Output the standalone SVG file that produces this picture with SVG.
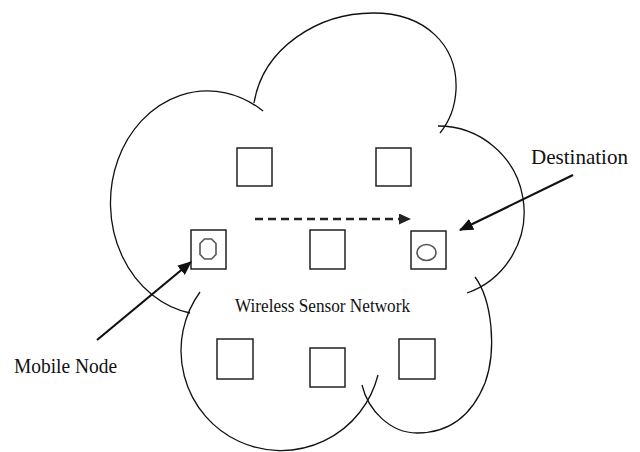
<svg xmlns="http://www.w3.org/2000/svg" width="640" height="452" viewBox="0 0 640 452">
<style>
.cloud{fill:none;stroke:#111;stroke-width:1.3}
.sq{fill:#fff;stroke:#222;stroke-width:1.5}
.mark{fill:none;stroke:#555;stroke-width:1.6}
.lbl{font-family:"Liberation Serif","Times New Roman",serif;fill:#111}
.conn{stroke:#111;stroke-width:2.2;fill:none}
</style>
<defs>
<marker id="ah" markerWidth="14" markerHeight="12" refX="13" refY="6" orient="auto" markerUnits="userSpaceOnUse">
<path d="M0,0 L14,6 L0,12 Z" fill="#111"/>
</marker>
<marker id="ahd" markerWidth="12" markerHeight="11" refX="12" refY="5.5" orient="auto" markerUnits="userSpaceOnUse">
<path d="M0,0 L12,5.5 L0,11 Z" fill="#222"/>
</marker>
</defs>
<rect width="640" height="452" fill="#fff"/>
<g id="cloud">
<path class="cloud" d="M263,111 A97,112 0 1 0 190,313"/>
<path class="cloud" d="M254,103 C263,48 318,13 373,13 C425,13 458,45 456,90 C455,108 449,122 440,133"/>
<path class="cloud" d="M438,126 A86,86 0 0 1 467,293"/>
<path class="cloud" d="M475,277 C492,300 497,350 485,383 C470,420 445,433 417,433 C390,433 368,410 362,385"/>
<path class="cloud" d="M200,292 A100,100 0 1 0 378,375"/>
<text class="lbl" x="235" y="312" font-size="18.5" textLength="175" lengthAdjust="spacingAndGlyphs">Wireless Sensor Network</text>
</g>
<g id="node-top-left"><rect class="sq" x="237" y="148" width="35" height="38"/></g>
<g id="node-top-right"><rect class="sq" x="376" y="148" width="35" height="38"/></g>
<g id="node-mobile"><rect class="sq" x="191" y="230" width="35" height="39"/><path class="mark" d="M204.5,239 L211.5,239 L216,243.5 L216,254.5 L211.5,259 L204.5,259 L200,254.5 L200,243.5 Z"/></g>
<g id="node-mid-center"><rect class="sq" x="310" y="230" width="35" height="39"/></g>
<g id="node-destination"><rect class="sq" x="411" y="231" width="35" height="38"/><ellipse class="mark" cx="426.5" cy="252.5" rx="9.5" ry="8"/></g>
<g id="node-bot-left"><rect class="sq" x="217" y="339" width="36" height="40"/></g>
<g id="node-bot-mid"><rect class="sq" x="310" y="348" width="35" height="39"/></g>
<g id="node-bot-right"><rect class="sq" x="399" y="339" width="36" height="40"/></g>
<g id="label-destination"><text class="lbl" x="531" y="164" font-size="21" textLength="97" lengthAdjust="spacingAndGlyphs">Destination</text></g>
<g id="label-mobile"><text class="lbl" x="14" y="373" font-size="21" textLength="103" lengthAdjust="spacingAndGlyphs">Mobile Node</text></g>
<g id="connectors">
<line x1="255" y1="219" x2="411" y2="219" stroke="#222" stroke-width="2.6" stroke-dasharray="8,5" marker-end="url(#ahd)"/>
<line class="conn" x1="573" y1="175" x2="460" y2="230" marker-end="url(#ah)"/>
<line class="conn" x1="97" y1="340" x2="191" y2="262" marker-end="url(#ah)"/>
</g>
</svg>
